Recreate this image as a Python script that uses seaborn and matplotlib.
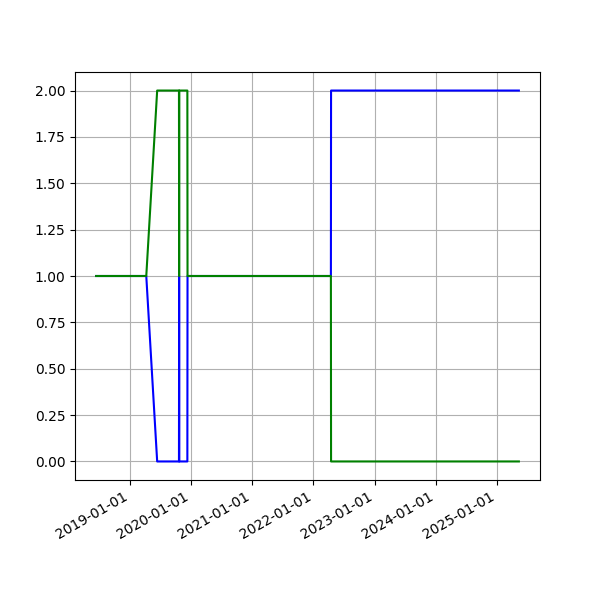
import matplotlib
matplotlib.use('Agg')
import matplotlib.pyplot as plt
import matplotlib.dates as mdates
import pandas as pd
import seaborn as sns

dates = ['2018-06-15', '2019-04-10', '2019-06-14', '2019-10-22', '2019-10-23',
         '2019-10-24', '2019-12-11', '2019-12-12', '2022-04-15', '2022-04-16',
         '2025-05-10']
blue_values = [1, 1, 0, 0, 1, 0, 0, 1, 1, 2, 2]
green_values = [1, 1, 2, 2, 1, 2, 2, 1, 1, 0, 0]

df = pd.DataFrame({'date': pd.to_datetime(dates), 'blue': blue_values, 'green': green_values})

fig = plt.figure(figsize=(6, 6), dpi=100)
axes = fig.add_subplot(111)
sns.lineplot(data=df, x='date', y='blue', color='blue', estimator=None, sort=False, ax=axes)
sns.lineplot(data=df, x='date', y='green', color='green', estimator=None, sort=False, ax=axes)
axes.set(xlabel='', ylabel='')
axes.xaxis.set_major_locator(mdates.YearLocator())
axes.xaxis.set_major_formatter(mdates.DateFormatter('%Y-%m-%d'))
axes.grid(True)
fig.autofmt_xdate()
fig.savefig('out.png', dpi=100)
